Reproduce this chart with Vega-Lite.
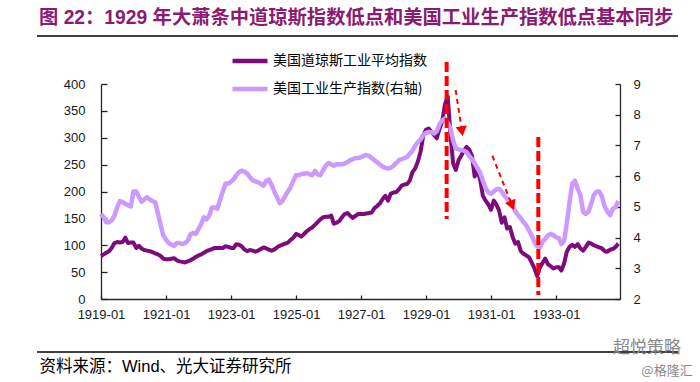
{
  "$schema": "https://vega.github.io/schema/vega-lite/v6.json",
  "width": 519,
  "height": 215,
  "autosize": {"type": "none"},
  "padding": {"left": 101, "top": 84, "right": 80, "bottom": 83},
  "background": "#ffffff",
  "title": {
    "text": "图 22：1929 年大萧条中道琼斯指数低点和美国工业生产指数低点基本同步",
    "anchor": "start", "frame": "group", "dx": -62, "dy": 2, "offset": 0,
    "baseline": "middle",
    "font": "Liberation Sans, Noto Sans CJK SC", "fontSize": 19.3, "fontWeight": "bold", "color": "#8b1a72"
  },
  "datasets": {
    "dow": [
      {"d":"1919-01-01","v":80},{"d":"1919-02-01","v":83},{"d":"1919-03-01","v":86},{"d":"1919-04-01","v":89},{"d":"1919-05-01","v":95},{"d":"1919-06-01","v":104},{"d":"1919-07-01","v":106},{"d":"1919-08-01","v":105},{"d":"1919-09-01","v":106},{"d":"1919-10-01","v":114},{"d":"1919-11-01","v":104},{"d":"1919-12-01","v":105},
      {"d":"1920-01-01","v":105},{"d":"1920-02-01","v":95},{"d":"1920-03-01","v":99},{"d":"1920-04-01","v":94},{"d":"1920-05-01","v":91},{"d":"1920-06-01","v":90},{"d":"1920-07-01","v":89},{"d":"1920-08-01","v":87},{"d":"1920-09-01","v":85},{"d":"1920-10-01","v":83},{"d":"1920-11-01","v":80},{"d":"1920-12-01","v":75},
      {"d":"1921-01-01","v":74},{"d":"1921-02-01","v":74},{"d":"1921-03-01","v":75},{"d":"1921-04-01","v":76},{"d":"1921-05-01","v":72},{"d":"1921-06-01","v":70},{"d":"1921-07-01","v":69},{"d":"1921-08-01","v":68},{"d":"1921-09-01","v":70},{"d":"1921-10-01","v":72},{"d":"1921-11-01","v":75},{"d":"1921-12-01","v":78},
      {"d":"1922-01-01","v":81},{"d":"1922-02-01","v":83},{"d":"1922-03-01","v":86},{"d":"1922-04-01","v":89},{"d":"1922-05-01","v":91},{"d":"1922-06-01","v":93},{"d":"1922-07-01","v":95},{"d":"1922-08-01","v":95},{"d":"1922-09-01","v":95},{"d":"1922-10-01","v":95},{"d":"1922-11-01","v":98},{"d":"1922-12-01","v":97},
      {"d":"1923-01-01","v":95},{"d":"1923-02-01","v":95},{"d":"1923-03-01","v":102},{"d":"1923-04-01","v":101},{"d":"1923-05-01","v":98},{"d":"1923-06-01","v":92},{"d":"1923-07-01","v":89},{"d":"1923-08-01","v":91},{"d":"1923-09-01","v":90},{"d":"1923-10-01","v":88},{"d":"1923-11-01","v":90},{"d":"1923-12-01","v":93},
      {"d":"1924-01-01","v":96},{"d":"1924-02-01","v":94},{"d":"1924-03-01","v":92},{"d":"1924-04-01","v":90},{"d":"1924-05-01","v":92},{"d":"1924-06-01","v":96},{"d":"1924-07-01","v":99},{"d":"1924-08-01","v":101},{"d":"1924-09-01","v":103},{"d":"1924-10-01","v":105},{"d":"1924-11-01","v":110},{"d":"1924-12-01","v":114},
      {"d":"1925-01-01","v":121},{"d":"1925-02-01","v":119},{"d":"1925-03-01","v":116},{"d":"1925-04-01","v":121},{"d":"1925-05-01","v":126},{"d":"1925-06-01","v":130},{"d":"1925-07-01","v":133},{"d":"1925-08-01","v":138},{"d":"1925-09-01","v":143},{"d":"1925-10-01","v":148},{"d":"1925-11-01","v":152},{"d":"1925-12-01","v":153},
      {"d":"1926-01-01","v":153},{"d":"1926-02-01","v":155},{"d":"1926-03-01","v":140},{"d":"1926-04-01","v":142},{"d":"1926-05-01","v":145},{"d":"1926-06-01","v":152},{"d":"1926-07-01","v":158},{"d":"1926-08-01","v":160},{"d":"1926-09-01","v":155},{"d":"1926-10-01","v":151},{"d":"1926-11-01","v":155},{"d":"1926-12-01","v":158},
      {"d":"1927-01-01","v":158},{"d":"1927-02-01","v":158},{"d":"1927-03-01","v":159},{"d":"1927-04-01","v":160},{"d":"1927-05-01","v":161},{"d":"1927-06-01","v":169},{"d":"1927-07-01","v":173},{"d":"1927-08-01","v":178},{"d":"1927-09-01","v":186},{"d":"1927-10-01","v":192},{"d":"1927-11-01","v":183},{"d":"1927-12-01","v":196},
      {"d":"1928-01-01","v":198},{"d":"1928-02-01","v":199},{"d":"1928-03-01","v":204},{"d":"1928-04-01","v":211},{"d":"1928-05-01","v":213},{"d":"1928-06-01","v":214},{"d":"1928-07-01","v":220},{"d":"1928-08-01","v":236},{"d":"1928-09-01","v":243},{"d":"1928-10-01","v":256},{"d":"1928-11-01","v":275},{"d":"1928-12-01","v":305},
      {"d":"1929-01-01","v":315},{"d":"1929-02-01","v":317},{"d":"1929-03-01","v":311},{"d":"1929-04-01","v":305},{"d":"1929-05-01","v":299},{"d":"1929-06-01","v":317},{"d":"1929-07-01","v":330},{"d":"1929-08-01","v":362},{"d":"1929-09-01","v":377},{"d":"1929-10-01","v":308},{"d":"1929-11-01","v":252},{"d":"1929-12-01","v":240},
      {"d":"1930-01-01","v":258},{"d":"1930-02-01","v":267},{"d":"1930-03-01","v":276},{"d":"1930-04-01","v":283},{"d":"1930-05-01","v":278},{"d":"1930-06-01","v":266},{"d":"1930-07-01","v":228},{"d":"1930-08-01","v":238},{"d":"1930-09-01","v":222},{"d":"1930-10-01","v":192},{"d":"1930-11-01","v":183},{"d":"1930-12-01","v":176},
      {"d":"1931-01-01","v":166},{"d":"1931-02-01","v":183},{"d":"1931-03-01","v":176},{"d":"1931-04-01","v":165},{"d":"1931-05-01","v":142},{"d":"1931-06-01","v":152},{"d":"1931-07-01","v":131},{"d":"1931-08-01","v":134},{"d":"1931-09-01","v":115},{"d":"1931-10-01","v":103},{"d":"1931-11-01","v":106},{"d":"1931-12-01","v":89},
      {"d":"1932-01-01","v":84},{"d":"1932-02-01","v":81},{"d":"1932-03-01","v":78},{"d":"1932-04-01","v":68},{"d":"1932-05-01","v":58},{"d":"1932-06-01","v":43},{"d":"1932-07-01","v":58},{"d":"1932-08-01","v":67},{"d":"1932-09-01","v":75},{"d":"1932-10-01","v":65},{"d":"1932-11-01","v":61},{"d":"1932-12-01","v":57},
      {"d":"1933-01-01","v":59},{"d":"1933-02-01","v":59},{"d":"1933-03-01","v":53},{"d":"1933-04-01","v":66},{"d":"1933-05-01","v":88},{"d":"1933-06-01","v":97},{"d":"1933-07-01","v":101},{"d":"1933-08-01","v":97},{"d":"1933-09-01","v":102},{"d":"1933-10-01","v":94},{"d":"1933-11-01","v":90},{"d":"1933-12-01","v":97},
      {"d":"1934-01-01","v":105},{"d":"1934-02-01","v":103},{"d":"1934-03-01","v":100},{"d":"1934-04-01","v":98},{"d":"1934-05-01","v":96},{"d":"1934-06-01","v":94},{"d":"1934-07-01","v":89},{"d":"1934-08-01","v":88},{"d":"1934-09-01","v":92},{"d":"1934-10-01","v":93},{"d":"1934-11-01","v":97},{"d":"1934-12-01","v":103}
    ],
    "ip": [
      {"d":"1919-01-01","v":4.77},{"d":"1919-02-01","v":4.66},{"d":"1919-03-01","v":4.50},{"d":"1919-04-01","v":4.50},{"d":"1919-05-01","v":4.56},{"d":"1919-06-01","v":4.71},{"d":"1919-07-01","v":4.98},{"d":"1919-08-01","v":5.19},{"d":"1919-09-01","v":5.15},{"d":"1919-10-01","v":5.10},{"d":"1919-11-01","v":5.05},{"d":"1919-12-01","v":5.01},
      {"d":"1920-01-01","v":5.50},{"d":"1920-02-01","v":5.50},{"d":"1920-03-01","v":5.33},{"d":"1920-04-01","v":5.17},{"d":"1920-05-01","v":5.24},{"d":"1920-06-01","v":5.31},{"d":"1920-07-01","v":5.24},{"d":"1920-08-01","v":5.19},{"d":"1920-09-01","v":5.15},{"d":"1920-10-01","v":4.80},{"d":"1920-11-01","v":4.42},{"d":"1920-12-01","v":4.07},
      {"d":"1921-01-01","v":3.93},{"d":"1921-02-01","v":3.82},{"d":"1921-03-01","v":3.77},{"d":"1921-04-01","v":3.73},{"d":"1921-05-01","v":3.82},{"d":"1921-06-01","v":3.82},{"d":"1921-07-01","v":3.79},{"d":"1921-08-01","v":3.82},{"d":"1921-09-01","v":3.89},{"d":"1921-10-01","v":4.10},{"d":"1921-11-01","v":4.15},{"d":"1921-12-01","v":4.12},
      {"d":"1922-01-01","v":4.28},{"d":"1922-02-01","v":4.45},{"d":"1922-03-01","v":4.66},{"d":"1922-04-01","v":4.59},{"d":"1922-05-01","v":4.71},{"d":"1922-06-01","v":4.98},{"d":"1922-07-01","v":4.98},{"d":"1922-08-01","v":4.94},{"d":"1922-09-01","v":5.24},{"d":"1922-10-01","v":5.50},{"d":"1922-11-01","v":5.76},{"d":"1922-12-01","v":5.76},
      {"d":"1923-01-01","v":5.82},{"d":"1923-02-01","v":5.90},{"d":"1923-03-01","v":6.03},{"d":"1923-04-01","v":6.13},{"d":"1923-05-01","v":6.18},{"d":"1923-06-01","v":6.15},{"d":"1923-07-01","v":6.08},{"d":"1923-08-01","v":5.97},{"d":"1923-09-01","v":5.87},{"d":"1923-10-01","v":5.83},{"d":"1923-11-01","v":5.80},{"d":"1923-12-01","v":5.75},
      {"d":"1924-01-01","v":5.69},{"d":"1924-02-01","v":5.85},{"d":"1924-03-01","v":5.89},{"d":"1924-04-01","v":5.71},{"d":"1924-05-01","v":5.50},{"d":"1924-06-01","v":5.31},{"d":"1924-07-01","v":5.12},{"d":"1924-08-01","v":5.19},{"d":"1924-09-01","v":5.36},{"d":"1924-10-01","v":5.50},{"d":"1924-11-01","v":5.64},{"d":"1924-12-01","v":5.85},
      {"d":"1925-01-01","v":6.03},{"d":"1925-02-01","v":6.04},{"d":"1925-03-01","v":6.06},{"d":"1925-04-01","v":6.08},{"d":"1925-05-01","v":6.10},{"d":"1925-06-01","v":6.06},{"d":"1925-07-01","v":6.03},{"d":"1925-08-01","v":6.17},{"d":"1925-09-01","v":6.06},{"d":"1925-10-01","v":6.03},{"d":"1925-11-01","v":6.20},{"d":"1925-12-01","v":6.34},
      {"d":"1926-01-01","v":6.43},{"d":"1926-02-01","v":6.38},{"d":"1926-03-01","v":6.34},{"d":"1926-04-01","v":6.39},{"d":"1926-05-01","v":6.39},{"d":"1926-06-01","v":6.38},{"d":"1926-07-01","v":6.41},{"d":"1926-08-01","v":6.46},{"d":"1926-09-01","v":6.52},{"d":"1926-10-01","v":6.55},{"d":"1926-11-01","v":6.59},{"d":"1926-12-01","v":6.59},
      {"d":"1927-01-01","v":6.62},{"d":"1927-02-01","v":6.66},{"d":"1927-03-01","v":6.69},{"d":"1927-04-01","v":6.66},{"d":"1927-05-01","v":6.59},{"d":"1927-06-01","v":6.52},{"d":"1927-07-01","v":6.45},{"d":"1927-08-01","v":6.38},{"d":"1927-09-01","v":6.31},{"d":"1927-10-01","v":6.27},{"d":"1927-11-01","v":6.25},{"d":"1927-12-01","v":6.27},
      {"d":"1928-01-01","v":6.34},{"d":"1928-02-01","v":6.43},{"d":"1928-03-01","v":6.52},{"d":"1928-04-01","v":6.55},{"d":"1928-05-01","v":6.59},{"d":"1928-06-01","v":6.62},{"d":"1928-07-01","v":6.73},{"d":"1928-08-01","v":6.83},{"d":"1928-09-01","v":6.99},{"d":"1928-10-01","v":7.11},{"d":"1928-11-01","v":7.20},{"d":"1928-12-01","v":7.34},
      {"d":"1929-01-01","v":7.41},{"d":"1929-02-01","v":7.44},{"d":"1929-03-01","v":7.43},{"d":"1929-04-01","v":7.39},{"d":"1929-05-01","v":7.46},{"d":"1929-06-01","v":7.69},{"d":"1929-07-01","v":7.81},{"d":"1929-08-01","v":7.88},{"d":"1929-09-01","v":7.74},{"d":"1929-10-01","v":7.57},{"d":"1929-11-01","v":7.16},{"d":"1929-12-01","v":6.90},
      {"d":"1930-01-01","v":6.87},{"d":"1930-02-01","v":6.85},{"d":"1930-03-01","v":6.83},{"d":"1930-04-01","v":6.78},{"d":"1930-05-01","v":6.66},{"d":"1930-06-01","v":6.55},{"d":"1930-07-01","v":6.41},{"d":"1930-08-01","v":6.27},{"d":"1930-09-01","v":6.10},{"d":"1930-10-01","v":5.85},{"d":"1930-11-01","v":5.61},{"d":"1930-12-01","v":5.47},
      {"d":"1931-01-01","v":5.43},{"d":"1931-02-01","v":5.50},{"d":"1931-03-01","v":5.57},{"d":"1931-04-01","v":5.59},{"d":"1931-05-01","v":5.50},{"d":"1931-06-01","v":5.36},{"d":"1931-07-01","v":5.26},{"d":"1931-08-01","v":5.15},{"d":"1931-09-01","v":5.01},{"d":"1931-10-01","v":4.85},{"d":"1931-11-01","v":4.73},{"d":"1931-12-01","v":4.63},
      {"d":"1932-01-01","v":4.50},{"d":"1932-02-01","v":4.40},{"d":"1932-03-01","v":4.24},{"d":"1932-04-01","v":4.07},{"d":"1932-05-01","v":3.87},{"d":"1932-06-01","v":3.72},{"d":"1932-07-01","v":3.68},{"d":"1932-08-01","v":3.86},{"d":"1932-09-01","v":3.96},{"d":"1932-10-01","v":4.07},{"d":"1932-11-01","v":4.12},{"d":"1932-12-01","v":4.08},
      {"d":"1933-01-01","v":4.01},{"d":"1933-02-01","v":3.98},{"d":"1933-03-01","v":3.79},{"d":"1933-04-01","v":3.89},{"d":"1933-05-01","v":4.45},{"d":"1933-06-01","v":5.15},{"d":"1933-07-01","v":5.76},{"d":"1933-08-01","v":5.85},{"d":"1933-09-01","v":5.59},{"d":"1933-10-01","v":5.38},{"d":"1933-11-01","v":4.84},{"d":"1933-12-01","v":4.77},
      {"d":"1934-01-01","v":4.85},{"d":"1934-02-01","v":5.12},{"d":"1934-03-01","v":5.38},{"d":"1934-04-01","v":5.50},{"d":"1934-05-01","v":5.50},{"d":"1934-06-01","v":5.33},{"d":"1934-07-01","v":5.01},{"d":"1934-08-01","v":4.84},{"d":"1934-09-01","v":4.73},{"d":"1934-10-01","v":4.94},{"d":"1934-11-01","v":4.99},{"d":"1934-12-01","v":5.19}
    ],
    "vlines": [
      {"d":"1929-08-20","y1":440.9,"y2":148.8},
      {"d":"1932-06-15","y1":301.4,"y2":7.4}
    ],
    "arrows": [
      {"id":1,"d":"1929-11-29","y1":388.8,"d2":"1930-02-08","y2":312.2},
      {"id":2,"d":"1931-01-15","y1":266.6,"d2":"1931-08-26","y2":174.1}
    ]
  },
  "layer": [
    {
      "data": {"name": "dow", "format": {"parse": {"d": "date"}}},
      "mark": {"type": "line", "strokeWidth": 4, "strokeJoin": "round"},
      "encoding": {
        "x": {
          "field": "d", "type": "temporal",
          "scale": {"type": "utc", "nice": false, "domain": [{"year":1919,"month":1,"date":1,"utc":true},{"year":1934,"month":12,"date":20,"utc":true}]},
          "axis": {
            "values": [{"year":1919,"month":1,"date":1,"utc":true},{"year":1921,"month":1,"date":1,"utc":true},{"year":1923,"month":1,"date":1,"utc":true},{"year":1925,"month":1,"date":1,"utc":true},{"year":1927,"month":1,"date":1,"utc":true},{"year":1929,"month":1,"date":1,"utc":true},{"year":1931,"month":1,"date":1,"utc":true},{"year":1933,"month":1,"date":1,"utc":true}],
            "labelExpr": "utcFormat(datum.value, '%Y-%m')",
            "labelFlush": false, "labelOverlap": false,
            "tickSize": -4, "labelPadding": 19, "labelBaseline": "middle",
            "title": "资料来源：Wind、光大证券研究所",
            "titleAnchor": "start", "titleAlign": "left", "titleBaseline": "middle",
            "titleX": -62, "titleY": 67,
            "titleFont": "Liberation Sans, Noto Sans CJK SC", "titleFontSize": 16.5, "titleFontWeight": "normal", "titleColor": "#000000"
          }
        },
        "y": {
          "field": "v", "type": "quantitative",
          "scale": {"domain": [0, 400], "nice": false},
          "axis": {"orient": "left", "values": [0,50,100,150,200,250,300,350,400], "title": null, "tickSize": -6, "labelPadding": 22}
        },
        "color": {
          "datum": "美国道琼斯工业平均指数", "type": "nominal",
          "scale": {"domain": ["美国道琼斯工业平均指数", "美国工业生产指数(右轴)"], "range": ["#7d0b7d", "#cc99ff"]},
          "legend": {
            "orient": "none", "legendX": 129, "legendY": -31, "title": null, "direction": "vertical",
            "symbolType": "stroke", "symbolStrokeWidth": 4.5, "symbolSize": 1225,
            "clipHeight": 16, "rowPadding": 12, "padding": 0, "labelOffset": 3,
            "labelFont": "Noto Sans CJK SC", "labelFontSize": 14, "labelColor": "#000000"
          }
        }
      }
    },
    {
      "data": {"name": "ip", "format": {"parse": {"d": "date"}}},
      "mark": {"type": "line", "strokeWidth": 4.5, "strokeJoin": "round"},
      "encoding": {
        "x": {"field": "d", "type": "temporal"},
        "y": {
          "field": "v", "type": "quantitative",
          "scale": {"domain": [2, 9], "nice": false, "zero": false},
          "axis": {"orient": "right", "values": [2,3,4,5,6,7,8,9], "title": null, "tickSize": -5, "labelPadding": 18}
        },
        "color": {"datum": "美国工业生产指数(右轴)", "type": "nominal"}
      }
    },
    {
      "layer": [
        {
          "data": {"name": "vlines", "format": {"parse": {"d": "date"}}},
          "mark": {"type": "rule", "color": "#ff0000", "strokeWidth": 4, "strokeDash": [10, 4]},
          "encoding": {
            "x": {"field": "d", "type": "temporal"},
            "y": {"field": "y1", "type": "quantitative", "scale": {"domain": [0, 400], "nice": false}, "axis": null},
            "y2": {"field": "y2"}
          }
        },
        {
          "data": {"name": "arrows", "format": {"parse": {"d": "date", "d2": "date"}}},
          "mark": {"type": "rule", "color": "#ff0000", "strokeWidth": 2, "strokeDash": [5, 4]},
          "encoding": {
            "x": {"field": "d", "type": "temporal"},
            "x2": {"field": "d2"},
            "y": {"field": "y1", "type": "quantitative", "scale": {"domain": [0, 400], "nice": false}, "axis": null},
            "y2": {"field": "y2"}
          }
        },
        {
          "data": {"name": "arrows", "format": {"parse": {"d": "date", "d2": "date"}}},
          "transform": [{"filter": "datum.id == 1"}],
          "mark": {"type": "point", "shape": "triangle-down", "angle": -9, "size": 130, "filled": true, "color": "#ff0000", "opacity": 1},
          "encoding": {
            "x": {"field": "d2", "type": "temporal"},
            "y": {"field": "y2", "type": "quantitative", "scale": {"domain": [0, 400], "nice": false}, "axis": null}
          }
        },
        {
          "data": {"name": "arrows", "format": {"parse": {"d": "date", "d2": "date"}}},
          "transform": [{"filter": "datum.id == 2"}],
          "mark": {"type": "point", "shape": "triangle-down", "angle": -22, "size": 130, "filled": true, "color": "#ff0000", "opacity": 1},
          "encoding": {
            "x": {"field": "d2", "type": "temporal"},
            "y": {"field": "y2", "type": "quantitative", "scale": {"domain": [0, 400], "nice": false}, "axis": null}
          }
        },
        {
          "data": {"values": [{}]},
          "mark": {"type": "rule", "color": "#000000", "strokeWidth": 1.3},
          "encoding": {
            "x": {"datum": {"year":1917,"month":1,"date":12,"utc":true}, "type": "temporal"},
            "x2": {"datum": {"year":1936,"month":10,"date":2,"utc":true}},
            "y": {"datum": 489.3, "type": "quantitative", "scale": {"domain": [0, 400], "nice": false}, "axis": null}
          }
        },
        {
          "data": {"values": [{}]},
          "mark": {"type": "rule", "color": "#000000", "strokeWidth": 1.3},
          "encoding": {
            "x": {"datum": {"year":1917,"month":1,"date":12,"utc":true}, "type": "temporal"},
            "x2": {"datum": {"year":1936,"month":10,"date":2,"utc":true}},
            "y": {"datum": -98.6, "type": "quantitative", "scale": {"domain": [0, 400], "nice": false}, "axis": null}
          }
        },
        {
          "data": {"values": [{}]},
          "mark": {"type": "text", "text": "超悦策略", "font": "Noto Sans CJK SC", "fontSize": 17, "color": "#8a8a8a", "align": "center", "baseline": "middle"},
          "encoding": {
            "x": {"datum": {"year":1935,"month":10,"date":19,"utc":true}, "type": "temporal"},
            "y": {"datum": -91.2, "type": "quantitative", "scale": {"domain": [0, 400], "nice": false}, "axis": null}
          }
        },
        {
          "data": {"values": [{}]},
          "mark": {"type": "text", "text": "@格隆汇", "font": "Noto Sans CJK SC", "fontSize": 13, "color": "#8a8a8a", "align": "center", "baseline": "middle"},
          "encoding": {
            "x": {"datum": {"year":1936,"month":5,"date":31,"utc":true}, "type": "temporal"},
            "y": {"datum": -134, "type": "quantitative", "scale": {"domain": [0, 400], "nice": false}, "axis": null}
          }
        }
      ]
    }
  ],
  "resolve": {"scale": {"y": "independent"}},
  "config": {
    "view": {"stroke": null},
    "axis": {
      "grid": false,
      "labelFont": "Liberation Sans", "labelFontSize": 13, "labelColor": "#1a1a1a",
      "domainColor": "#262626", "domainWidth": 1.3, "tickColor": "#262626", "tickWidth": 1.3
    }
  }
}
